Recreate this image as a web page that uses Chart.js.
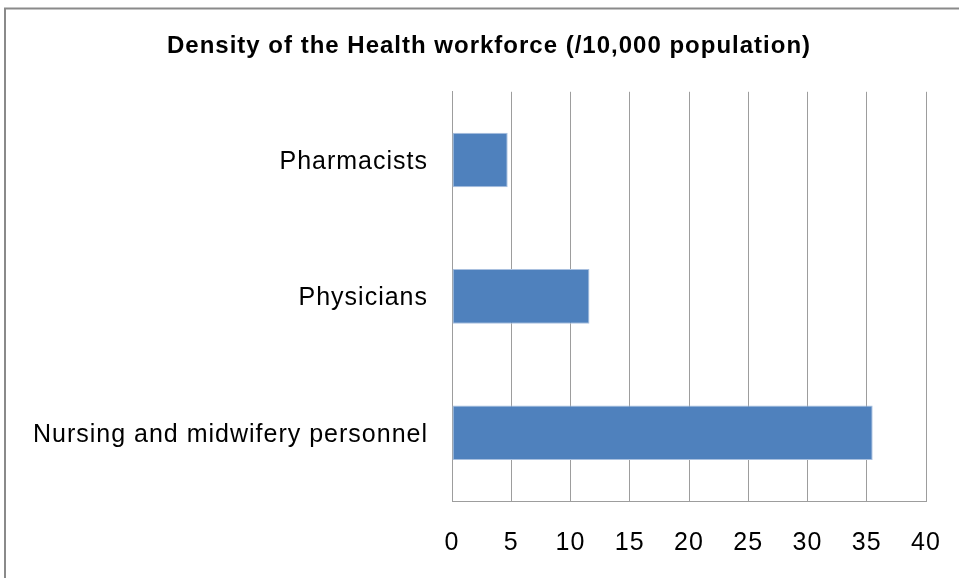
<!DOCTYPE html>
<html>
<head>
<meta charset="utf-8">
<script src="https://cdn.jsdelivr.net/npm/chart.js@4/dist/chart.umd.min.js"></script>
<style>
  html, body { margin: 0; padding: 0; background: #fff; }
  #wrap { position: relative; width: 959px; height: 578px; }
</style>
</head>
<body>
<div id="wrap"><canvas id="chart"></canvas></div>
<script>
// Density of the Health workforce — horizontal bars.
const categories = ['Pharmacists', 'Physicians', 'Nursing and midwifery personnel'];
const densities = [4.7, 11.6, 35.5];
const xTicks = [0, 5, 10, 15, 20, 25, 30, 35, 40];

const GRID = '#9d9d9d';
const FONT = 'Arial, "Liberation Sans", sans-serif';

// The original text is set a little loose; widen all canvas text by 1px per glyph.
const spacingPlugin = {
    id: 'spacing',
    beforeDraw(chart) {
        chart.ctx.save();
        chart.ctx.letterSpacing = '1px';
    },
    afterDraw(chart) {
        chart.ctx.restore();
    }
};

// Title in the original sits a bit right of the canvas centre.
const titleShiftPlugin = {
    id: 'titleShift',
    afterLayout(chart) {
        if (chart.titleBlock) chart.titleBlock.left = 52;
    }
};

// Grey frame around the whole chart (right/bottom edges fall off the canvas).
const framePlugin = {
    id: 'frame',
    afterDraw(chart) {
        const ctx = chart.ctx;
        ctx.save();
        ctx.strokeStyle = '#8a8a8a';
        ctx.lineWidth = 2;
        ctx.strokeRect(5, 8.5, chart.width + 20, chart.height + 20);
        ctx.restore();
    }
};

new Chart(document.getElementById('chart').getContext('2d'), {
    type: 'bar',
    data: {
        labels: categories,
        datasets: [{
            data: densities,
            backgroundColor: '#4f81bd',
            borderColor: '#a9c0df',
            borderWidth: 1,
            borderSkipped: false,
            barPercentage: 0.4,
            categoryPercentage: 1
        }]
    },
    options: {
        indexAxis: 'y',
        responsive: true,
        maintainAspectRatio: false,
        animation: false,
        layout: { padding: { left: 12, right: 33, top: 0, bottom: 0 } },
        plugins: {
            legend: { display: false },
            tooltip: { enabled: false },
            title: {
                display: true,
                text: 'Density of the Health workforce (/10,000 population)',
                color: '#000',
                font: { family: FONT, size: 24, weight: 'bold' },
                padding: { top: 32, bottom: 31 }
            }
        },
        scales: {
            x: {
                min: 0, max: 40,
                afterBuildTicks: s => { s.ticks = xTicks.map(v => ({ value: v })); },
                afterFit: s => { s.height = 77; s.paddingLeft = 0; s.paddingRight = 0; },
                grid: { color: GRID, lineWidth: 1, drawTicks: false },
                border: { color: GRID, width: 1 },
                ticks: { color: '#000', font: { family: FONT, size: 25 }, padding: 27, maxRotation: 0 }
            },
            y: {
                afterFit: s => { s.width = 440; s.paddingTop = 0; s.paddingBottom = 0; },
                grid: { display: false, drawTicks: false },
                border: { display: true, color: GRID, width: 1 },
                ticks: { color: '#000', font: { family: FONT, size: 25 }, padding: 24, labelOffset: 2 }
            }
        }
    },
    plugins: [spacingPlugin, titleShiftPlugin, framePlugin]
});
</script>
</body>
</html>
